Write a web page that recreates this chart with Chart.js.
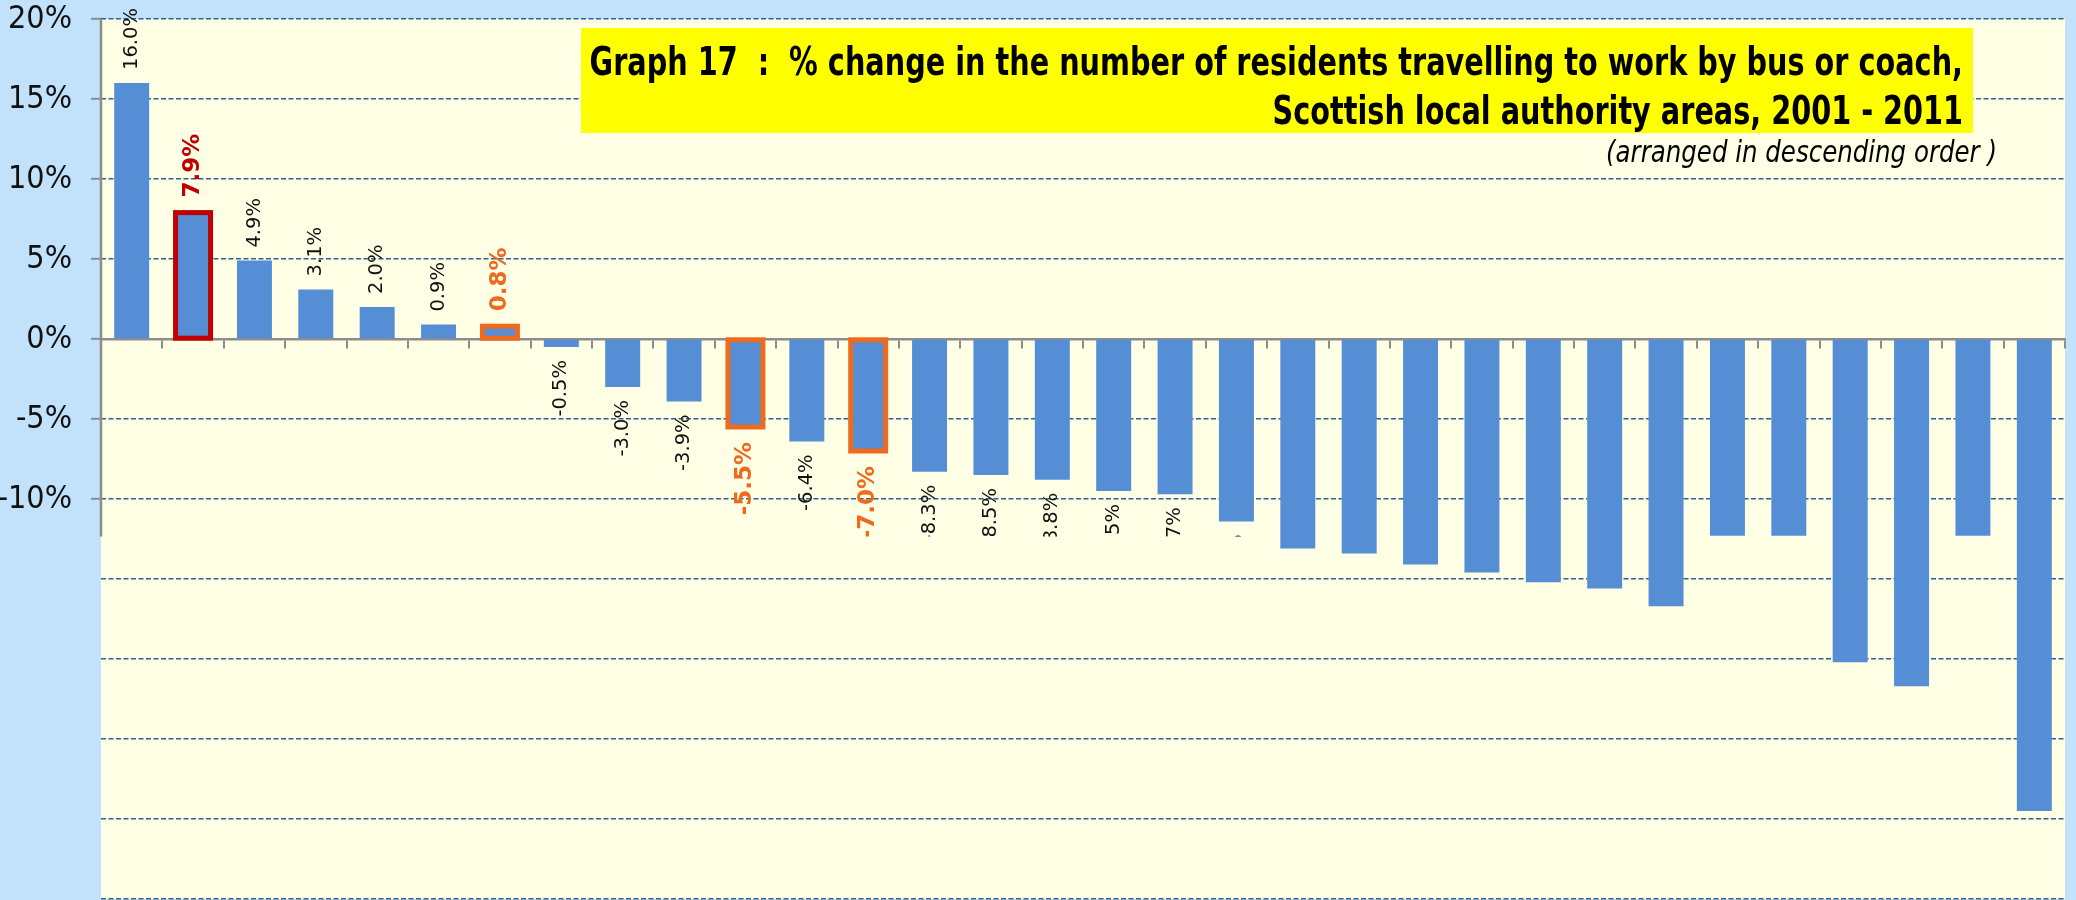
<!DOCTYPE html>
<html>
<head>
<meta charset="utf-8">
<title>Graph 17 - bus or coach commuters, % change 2001-2011</title>
<script src="https://cdn.jsdelivr.net/npm/chart.js@4.4.1/dist/chart.umd.min.js"></script>
<style>
  html, body { margin: 0; padding: 0; background: #C2E1FA; }
  #wrap { width: 2076px; height: 900px; }
</style>
</head>
<body>
<div id="wrap"><canvas id="chart" width="2076" height="900"></canvas></div>
<script>
/* ---------- data ---------- */

// 32 council areas, ranked; the original shows no area names
const areas = [
  '1', '2', '3', '4', '5', '6', '7', '8', '9', '10', '11', '12', '13', '14', '15', '16',
  '17', '18', '19', '20', '21', '22', '23', '24', '25', '26', '27', '28', '29', '30', '31', '32'
];

const pctChange = [
  16.0, 7.9, 4.9, 3.1, 2.0, 0.9, 0.8, -0.5, -3.0, -3.9, -5.5, -6.4, -7.0, -8.3, -8.5, -8.8,
  -9.5, -9.7, -11.4, -13.1, -13.4, -14.1, -14.6, -15.2, -15.6, -16.7, -12.3, -12.3, -20.2, -21.7, -12.3, -29.5
];

// bars picked out with a coloured frame + bold label
const highlightIdx = [1, 6, 10, 12];
const highlightColor = ['#C00000', '#EE6A1F', '#EE6A1F', '#EE6A1F'];

const yTickValues = [20, 15, 10, 5, 0, -5, -10];
const yMin = -35;
const yMax = 20;
// below this value the original picture has no labels or axis line
const labelCutValue = -12.35;

const titleLines = [
  'Graph 17  :  % change in the number of residents travelling to work by bus or coach,',
  'Scottish local authority areas, 2001 - 2011'
];
const subtitle = '(arranged in descending order )';

/* ---------- styling ---------- */

const BAR_BLUE = '#558ED5';
const PLOT_BG = '#FFFFE6';
const GRID_BLUE = '#2A6293';
const AXIS_GREY = '#8C8C8C';
const NARROW = "'Liberation Sans Narrow', 'DejaVu Sans Condensed', 'Liberation Sans', sans-serif";
const LABEL_FONT = "'DejaVu Sans', Verdana, sans-serif";

function fitSize(ctx, text, style, family, target) {
  ctx.font = style + ' 100px ' + family;
  return 100 * target / ctx.measureText(text).width;
}

// right-aligned text, stretched vertically (the original face is taller than ours)
function tallText(ctx, text, x, y, stretch) {
  ctx.save();
  ctx.translate(x, y);
  ctx.scale(1, stretch);
  ctx.fillText(text, 0, 0);
  ctx.restore();
}

const decor = {
  id: 'decor',
  beforeDraw(chart) {
    const { ctx, chartArea: a } = chart;
    ctx.save();
    ctx.fillStyle = PLOT_BG;
    ctx.fillRect(a.left, a.top, a.right - a.left, a.bottom - a.top);
    ctx.restore();
  },
  afterDraw(chart) {
    const { ctx, chartArea: a } = chart;
    const ys = chart.scales.y;
    const cutY = ys.getPixelForValue(labelCutValue);
    const meta = chart.getDatasetMeta(0);

    ctx.save();

    // y axis line (stops where the original stops)
    ctx.strokeStyle = AXIS_GREY;
    ctx.lineWidth = 2.5;
    ctx.beginPath();
    ctx.moveTo(ys.right, a.top);
    ctx.lineTo(ys.right, cutY);
    ctx.stroke();

    // y tick labels
    ctx.fillStyle = '#111';
    ctx.font = '32px ' + NARROW;
    ctx.textAlign = 'right';
    ctx.textBaseline = 'middle';
    yTickValues.forEach(v => ctx.fillText(v + '%', ys.right - 29, ys.getPixelForValue(v) + 1));

    // frames round highlighted bars
    highlightIdx.forEach((idx, k) => {
      const p = meta.data[idx].getProps(['x', 'y', 'base', 'width'], true);
      ctx.strokeStyle = highlightColor[k];
      ctx.lineWidth = 5;
      ctx.strokeRect(p.x - p.width / 2, Math.min(p.y, p.base), p.width, Math.abs(p.base - p.y));
    });

    // rotated value labels, clipped at the cut
    ctx.save();
    ctx.beginPath();
    ctx.rect(0, 0, chart.width, cutY);
    ctx.clip();
    ctx.textBaseline = 'middle';
    pctChange.forEach((v, i) => {
      const p = meta.data[i].getProps(['x', 'y'], true);
      const k = highlightIdx.indexOf(i);
      const off = k >= 0 ? 15 : 13;
      ctx.font = k >= 0 ? 'bold 23px ' + LABEL_FONT : '19.5px ' + LABEL_FONT;
      ctx.fillStyle = k >= 0 ? highlightColor[k] : '#111';
      ctx.save();
      if (v >= 0) {
        ctx.translate(p.x, p.y - off);
        ctx.rotate(-Math.PI / 2);
        ctx.textAlign = 'left';
      } else {
        ctx.translate(p.x, p.y + off);
        ctx.rotate(-Math.PI / 2);
        ctx.textAlign = 'right';
      }
      ctx.fillText(v.toFixed(1) + '%', 0, 0);
      ctx.restore();
    });
    ctx.restore();

    // title box
    ctx.fillStyle = '#FFFF00';
    ctx.fillRect(581, 28, 1392, 105);
    const ts = fitSize(ctx, titleLines[0], 'bold', NARROW, 1374);
    ctx.font = 'bold ' + ts + 'px ' + NARROW;
    ctx.fillStyle = '#000';
    ctx.textAlign = 'right';
    ctx.textBaseline = 'alphabetic';
    tallText(ctx, titleLines[0], 1963, 75, 1.2);
    tallText(ctx, titleLines[1], 1963, 124, 1.2);

    const ss = fitSize(ctx, subtitle, 'italic', NARROW, 391);
    ctx.font = 'italic ' + ss + 'px ' + NARROW;
    tallText(ctx, subtitle, 1997, 162, 1.1);

    ctx.restore();
  }
};

new Chart(document.getElementById('chart'), {
  type: 'bar',
  data: {
    labels: areas,
    datasets: [{
      data: pctChange,
      backgroundColor: BAR_BLUE,
      borderWidth: 0,
      barPercentage: 0.57,
      categoryPercentage: 1
    }]
  },
  options: {
    responsive: false,
    animation: false,
    layout: { padding: { top: 19, right: 11, bottom: 1, left: 0 } },
    plugins: { legend: { display: false }, tooltip: { enabled: false } },
    scales: {
      x: {
        position: { y: 0 },
        z: 1,
        ticks: { display: false },
        grid: { drawOnChartArea: false, color: AXIS_GREY, lineWidth: 2, tickLength: 8 },
        border: { color: AXIS_GREY, width: 2.5 }
      },
      y: {
        min: yMin,
        max: yMax,
        ticks: { display: false, stepSize: 5 },
        afterFit: s => { s.width = 101; },
        border: { display: false, dash: [5, 2.5] },
        grid: {
          color: GRID_BLUE,
          lineWidth: 1.6,
          tickLength: 10,
          tickWidth: 2,
          tickColor: c => (c.tick && c.tick.value >= -10 ? AXIS_GREY : 'rgba(0,0,0,0)')
        }
      }
    }
  },
  plugins: [decor]
});
</script>
</body>
</html>
